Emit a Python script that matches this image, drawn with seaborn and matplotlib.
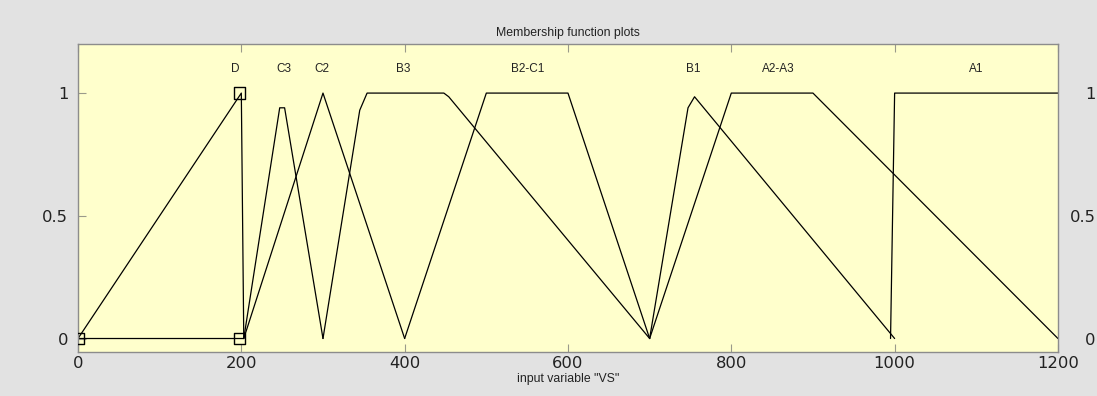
import matplotlib
matplotlib.use("Agg")
import matplotlib.pyplot as plt
import seaborn as sns
import pandas as pd

# ---- data ----
mf_names = ["D", "C3", "C2", "B3", "B2-C1", "B1", "A2-A3", "A1"]
D_x = [0, 200, 203, 0]
D_y = [0, 1, 0, 0]
C3_x = [203, 247, 253, 300]
C3_y = [0, 0.94, 0.94, 0]
C2_x = [203, 300, 400]
C2_y = [0, 1, 0]
B3_x = [300, 345, 354, 448, 454, 700]
B3_y = [0, 0.93, 1, 1, 0.985, 0]
B2C1_x = [400, 500, 600, 700]
B2C1_y = [0, 1, 1, 0]
B1_x = [700, 747, 755, 1000]
B1_y = [0, 0.94, 0.985, 0]
A2A3_x = [700, 800, 900, 1200]
A2A3_y = [0, 1, 1, 0]
A1_x = [995, 1000, 1200]
A1_y = [0, 1, 1]
D_marker_x = [0, 198, 198]
D_marker_y = [0, 1, 0]
label_x = [192, 252, 299, 398, 551, 753, 858, 1100]
label_y = 1.10
x_ticks = [0, 200, 400, 600, 800, 1000, 1200]
y_ticks = [0, 0.5, 1]
y_tick_labels = ["0", "0.5", "1"]

series = [(D_x, D_y), (C3_x, C3_y), (C2_x, C2_y), (B3_x, B3_y),
          (B2C1_x, B2C1_y), (B1_x, B1_y), (A2A3_x, A2A3_y), (A1_x, A1_y)]

sns.set_style("white")
plt.rcParams['font.family'] = ['DejaVu Sans']

fig = plt.figure(figsize=(10.97, 3.96), dpi=100)
fig.patch.set_facecolor("#e2e2e2")
ax = fig.add_axes([0.0711, 0.1111, 0.8933, 0.7778])
ax.set_facecolor("#ffffcc")

for (xs, ys) in series:
    df = pd.DataFrame({"x": xs, "y": ys})
    sns.lineplot(data=df, x="x", y="y", sort=False, estimator=None,
                 color="black", lw=0.9, ax=ax)

mk = pd.DataFrame({"x": D_marker_x, "y": D_marker_y})
sns.scatterplot(data=mk, x="x", y="y", marker="s", s=70, facecolor="none",
                edgecolor="black", linewidth=1.0, ax=ax, zorder=5)

for name, lx in zip(mf_names, label_x):
    ax.text(lx, label_y, name, ha="center", va="center",
            fontsize=8.5, family="Liberation Sans", color="#222222")

ax.set_xlim(0, 1200)
ax.set_ylim(-0.055, 1.2)
ax.set_xticks(x_ticks)
ax.set_xticklabels([str(t) for t in x_ticks])
ax.set_yticks(y_ticks)
ax.set_yticklabels(y_tick_labels)

for s in ax.spines.values():
    s.set_color("#8c8c8c")
    s.set_linewidth(1.0)
    s.set_visible(True)

ax.tick_params(axis="x", direction="in", length=6, width=0.8, color="#9a9a8a",
               top=True, bottom=True, labelsize=11.8, pad=3, labelcolor="#222222")
ax.tick_params(axis="y", direction="in", length=6, width=0.8, color="#9a9a8a",
               left=True, right=True, labelsize=11.8, pad=7, labelcolor="#222222")

ax2 = ax.twinx()
ax2.set_ylim(ax.get_ylim())
ax2.set_yticks(y_ticks)
ax2.set_yticklabels(y_tick_labels, ha="right")
ax2.tick_params(axis="y", direction="in", length=0, labelsize=11.8, pad=27,
                labelcolor="#222222")
for s in ax2.spines.values():
    s.set_visible(False)

ax.set_xlabel('input variable "VS"', fontsize=8.8, family="Liberation Sans",
              labelpad=1, color="#222222")
ax.set_ylabel("")
ax.set_title("Membership function plots", fontsize=8.8, family="Liberation Sans",
             pad=6, color="#222222")

fig.savefig("out.png", dpi=100, facecolor=fig.get_facecolor())
